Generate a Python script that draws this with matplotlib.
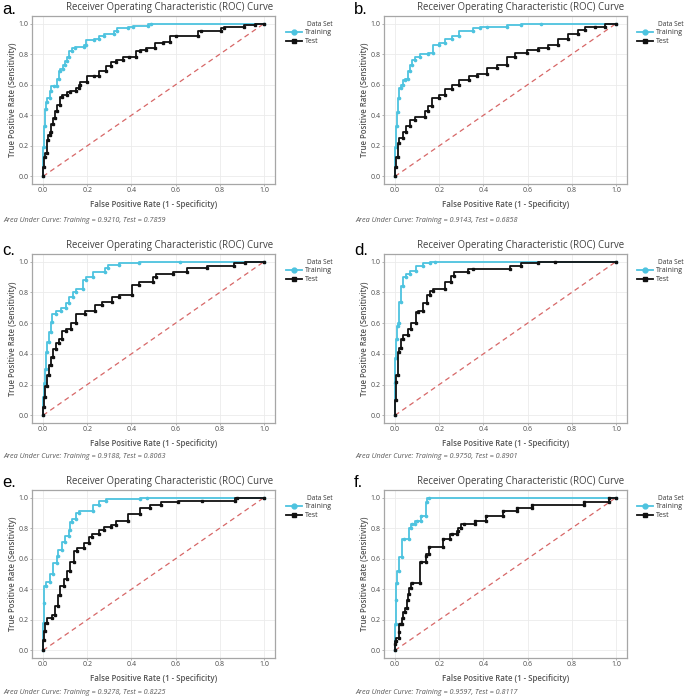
import matplotlib
matplotlib.use('Agg')
import matplotlib.pyplot as plt
from matplotlib.lines import Line2D

W, H = 685, 698
plt.rcParams['font.family'] = ['Open Sans', 'DejaVu Sans']

# ROC points, one pair of lists per panel and data set
a_train_fpr = [0, 0.003, 0.008, 0.015, 0.02, 0.03, 0.038, 0.05, 0.062, 0.07, 0.077, 0.092, 0.10, 0.107, 0.118,
               0.133, 0.146, 0.185, 0.195, 0.23, 0.253, 0.276, 0.32, 0.337, 0.383, 0.406, 0.475, 0.49, 1.0]
a_train_tpr = [0, 0.19, 0.33, 0.44, 0.49, 0.51, 0.56, 0.59, 0.59, 0.64, 0.69, 0.70, 0.73, 0.755, 0.78,
               0.82, 0.84, 0.845, 0.857, 0.89, 0.90, 0.92, 0.93, 0.95, 0.97, 0.98, 0.985, 1.0, 1.0]
a_test_fpr = [0, 0.005, 0.007, 0.018, 0.023, 0.03, 0.038, 0.046, 0.054, 0.061, 0.077, 0.084, 0.107, 0.123,
              0.149, 0.161, 0.169, 0.2, 0.23, 0.253, 0.284, 0.307, 0.33, 0.36, 0.39, 0.42, 0.437, 0.468,
              0.506, 0.544, 0.575, 0.60, 0.70, 0.713, 0.805, 0.82, 0.91, 0.96, 1.0]
a_test_tpr = [0, 0.06, 0.13, 0.15, 0.24, 0.27, 0.29, 0.34, 0.38, 0.43, 0.47, 0.52, 0.53, 0.55,
              0.56, 0.58, 0.60, 0.62, 0.66, 0.66, 0.69, 0.72, 0.75, 0.76, 0.78, 0.78, 0.82, 0.83,
              0.84, 0.87, 0.88, 0.92, 0.92, 0.95, 0.95, 0.97, 0.98, 0.99, 1.0]

b_train_fpr = [0, 0.005, 0.009, 0.015, 0.02, 0.025, 0.035, 0.043, 0.059, 0.066, 0.077, 0.09, 0.113,
               0.151, 0.174, 0.198, 0.228, 0.259, 0.29, 0.352, 0.383, 0.414, 0.506, 0.568, 0.66, 1.0]
b_train_tpr = [0, 0.19, 0.33, 0.42, 0.51, 0.58, 0.60, 0.63, 0.64, 0.69, 0.73, 0.76, 0.78,
               0.80, 0.81, 0.86, 0.87, 0.90, 0.92, 0.95, 0.97, 0.98, 0.98, 0.99, 1.0, 1.0]
b_test_fpr = [0, 0.005, 0.012, 0.02, 0.035, 0.051, 0.066, 0.09, 0.136, 0.148, 0.167, 0.198, 0.228,
              0.259, 0.29, 0.336, 0.37, 0.414, 0.46, 0.506, 0.545, 0.599, 0.645, 0.691, 0.738, 0.784,
              0.83, 0.861, 0.907, 0.95, 1.0]
b_test_tpr = [0, 0.06, 0.13, 0.22, 0.25, 0.29, 0.33, 0.37, 0.39, 0.43, 0.46, 0.51, 0.53,
              0.57, 0.60, 0.63, 0.66, 0.67, 0.71, 0.73, 0.78, 0.81, 0.83, 0.84, 0.86, 0.90,
              0.93, 0.96, 0.98, 0.98, 1.0]

c_train_fpr = [0, 0.003, 0.008, 0.012, 0.018, 0.026, 0.034, 0.042, 0.057, 0.08, 0.103, 0.119, 0.134,
               0.149, 0.18, 0.196, 0.226, 0.28, 0.296, 0.342, 0.434, 0.62, 1.0]
c_train_tpr = [0, 0.12, 0.21, 0.30, 0.41, 0.48, 0.54, 0.61, 0.66, 0.68, 0.70, 0.73, 0.77,
               0.80, 0.82, 0.88, 0.90, 0.93, 0.96, 0.98, 0.99, 1.0, 1.0]
c_test_fpr = [0, 0.003, 0.011, 0.018, 0.026, 0.037, 0.046, 0.057, 0.072, 0.088, 0.103, 0.126, 0.149,
              0.188, 0.234, 0.265, 0.311, 0.342, 0.404, 0.435, 0.496, 0.512, 0.589, 0.65, 0.743,
              0.866, 0.912, 1.0]
c_test_tpr = [0, 0.055, 0.12, 0.19, 0.26, 0.33, 0.38, 0.43, 0.47, 0.50, 0.55, 0.56, 0.60,
              0.66, 0.68, 0.72, 0.74, 0.77, 0.78, 0.85, 0.87, 0.90, 0.92, 0.93, 0.96,
              0.97, 0.99, 1.0]

d_train_fpr = [0, 0.002, 0.005, 0.008, 0.012, 0.02, 0.025, 0.035, 0.051, 0.066, 0.097, 0.128, 0.159,
               0.182, 1.0]
d_train_tpr = [0, 0.21, 0.37, 0.50, 0.58, 0.60, 0.74, 0.84, 0.90, 0.92, 0.94, 0.97, 0.99,
               1.0, 1.0]
d_test_fpr = [0, 0.005, 0.006, 0.015, 0.02, 0.028, 0.035, 0.059, 0.074, 0.097, 0.105, 0.128, 0.144,
              0.159, 0.174, 0.228, 0.252, 0.267, 0.329, 0.352, 0.522, 0.568, 0.645, 0.722, 1.0]
d_test_tpr = [0, 0.10, 0.22, 0.26, 0.41, 0.44, 0.50, 0.52, 0.56, 0.60, 0.67, 0.68, 0.73,
              0.78, 0.81, 0.82, 0.87, 0.91, 0.93, 0.955, 0.955, 0.97, 0.99, 1.0, 1.0]

e_train_fpr = [0, 0.003, 0.006, 0.012, 0.031, 0.046, 0.062, 0.069, 0.085, 0.10, 0.116, 0.123, 0.131,
               0.147, 0.162, 0.224, 0.255, 0.285, 0.44, 0.471, 1.0]
e_train_tpr = [0, 0.18, 0.31, 0.42, 0.45, 0.50, 0.57, 0.62, 0.66, 0.71, 0.75, 0.79, 0.84,
               0.86, 0.90, 0.91, 0.95, 0.975, 0.99, 1.0, 1.0]
e_test_fpr = [0, 0.003, 0.008, 0.02, 0.039, 0.054, 0.066, 0.077, 0.093, 0.108, 0.123, 0.139, 0.154,
              0.185, 0.208, 0.221, 0.255, 0.278, 0.309, 0.332, 0.386, 0.44, 0.486, 0.532, 0.61,
              0.718, 0.87, 0.88, 1.0]
e_test_tpr = [0, 0.07, 0.13, 0.18, 0.21, 0.23, 0.29, 0.36, 0.42, 0.47, 0.52, 0.58, 0.65,
              0.67, 0.70, 0.74, 0.76, 0.79, 0.81, 0.82, 0.85, 0.89, 0.93, 0.95, 0.97,
              0.98, 0.98, 1.0, 1.0]

f_train_fpr = [0, 0.003, 0.005, 0.011, 0.02, 0.031, 0.039, 0.062, 0.07, 0.078, 0.09, 0.101, 0.116,
               0.116, 0.14, 0.146, 0.152, 1.0]
f_train_tpr = [0, 0.17, 0.33, 0.44, 0.52, 0.61, 0.73, 0.73, 0.80, 0.83, 0.83, 0.85, 0.85,
               0.88, 0.88, 0.97, 1.0, 1.0]
f_test_fpr = [0, 0, 0.005, 0.016, 0.018, 0.023, 0.033, 0.036, 0.047, 0.052, 0.057, 0.065, 0.07, 0.078,
              0.113, 0.116, 0.14, 0.14, 0.155, 0.155, 0.215, 0.217, 0.25, 0.256, 0.28, 0.284, 0.3,
              0.31, 0.36, 0.36, 0.41, 0.41, 0.49, 0.49, 0.55, 0.55, 0.62, 0.62, 0.855, 0.855, 0.97,
              0.97, 1.0]
f_test_tpr = [0, 0.04, 0.06, 0.08, 0.12, 0.17, 0.17, 0.21, 0.25, 0.28, 0.33, 0.37, 0.41, 0.44,
              0.44, 0.58, 0.58, 0.62, 0.63, 0.68, 0.68, 0.73, 0.73, 0.76, 0.76, 0.78, 0.80,
              0.83, 0.83, 0.85, 0.85, 0.88, 0.88, 0.91, 0.91, 0.93, 0.93, 0.95, 0.95, 0.97, 0.97,
              1.0, 1.0]

auc_train = ['0.9210', '0.9143', '0.9188', '0.9750', '0.9278', '0.9597']
auc_test = ['0.7859', '0.6858', '0.8063', '0.8901', '0.8225', '0.8117']
letters = ['a.', 'b.', 'c.', 'd.', 'e.', 'f.']
ticks = [0.0, 0.2, 0.4, 0.6, 0.8, 1.0]
tick_labels = ['0.0', '0.2', '0.4', '0.6', '0.8', '1.0']

curves = [
    (a_train_fpr, a_train_tpr, a_test_fpr, a_test_tpr),
    (b_train_fpr, b_train_tpr, b_test_fpr, b_test_tpr),
    (c_train_fpr, c_train_tpr, c_test_fpr, c_test_tpr),
    (d_train_fpr, d_train_tpr, d_test_fpr, d_test_tpr),
    (e_train_fpr, e_train_tpr, e_test_fpr, e_test_tpr),
    (f_train_fpr, f_train_tpr, f_test_fpr, f_test_tpr),
]

# layout in pixels
left_col = 32
right_col = 384
rows_top = [16, 254, 490]
rows_bot = [184, 423, 658]
title_x = [170, 521]
title_y = [7, 245, 481]
letter_x = [2, 354]
letter_base = [14, 255, 487]
caption_y = [220, 457, 693]

CYAN = '#4DC3DF'
BLACK = '#111111'


def fx(x):
    return x / W


def fy(y):
    return 1 - y / H


fig = plt.figure(figsize=(W / 100, H / 100), dpi=100)

for i, (trx, tr_y, tex, te_y) in enumerate(curves):
    row, col = divmod(i, 2)
    l = left_col if col == 0 else right_col
    r = l + 243
    t, b = rows_top[row], rows_bot[row]
    ax = fig.add_axes([fx(l), fy(b), (r - l) / W, (b - t) / H])
    ax.set_xlim(-0.05, 1.05)
    ax.set_ylim(-0.05, 1.05)

    ax.plot([0, 1], [0, 1], ls=(0, (4, 3)), color='#D76767', lw=0.9, zorder=2)
    ax.plot(trx, tr_y, color=CYAN, lw=1.3, marker='o', ms=1.6, drawstyle='steps-pre', zorder=3)
    ax.plot(tex, te_y, color=BLACK, lw=1.3, marker='s', ms=1.5, drawstyle='steps-pre', zorder=4)

    ax.set_xticks(ticks)
    ax.set_xticklabels(tick_labels)
    ax.set_yticks(ticks)
    ax.set_yticklabels(tick_labels)
    ax.grid(color='#EBEBEB', lw=0.6)
    ax.set_axisbelow(True)
    for sp in ax.spines.values():
        sp.set_color('#A6A6A6')
        sp.set_linewidth(0.9)
    ax.tick_params(length=1.5, width=0.6, color='#A6A6A6', labelsize=5, labelcolor='#4D4D4D', pad=1)

    ax.set_xlabel('False Positive Rate (1 - Specificity)', fontsize=5.7, color='#555555',
                  fontweight='semibold', labelpad=4)
    ax.set_ylabel('True Positive Rate (Sensitivity)', fontsize=5.7, color='#555555',
                  fontweight='semibold', labelpad=1)

    handles = [Line2D([], [], color=CYAN, lw=1.3, marker='o', ms=3.5),
               Line2D([], [], color=BLACK, lw=1.3, marker='s', ms=3.5)]
    lx = 286 if col == 0 else 637
    ly = t + 13
    ax.legend(handles, ['Training', 'Test'], loc='upper left', bbox_to_anchor=(fx(lx), fy(ly)),
              bbox_transform=fig.transFigure, frameon=False, fontsize=5, handlelength=2.3,
              borderpad=0, borderaxespad=0, labelspacing=0.3, handletextpad=0.5,
              labelcolor='#333333')
    fig.text(fx(lx + 21), fy(t + 8), 'Data Set', fontsize=4.7, color='#333333', va='center', ha='left')

    fig.text(fx(title_x[col]), fy(title_y[row] + 0.5), 'Receiver Operating Characteristic (ROC) Curve',
             fontsize=6.9, color='#404040', ha='center', va='center')
    fig.text(fx(letter_x[col]), fy(letter_base[row]), letters[i], fontsize=12,
             family='Liberation Sans', color='black', ha='left', va='baseline')
    fig.text(fx(letter_x[col] + 1), fy(caption_y[row]),
             'Area Under Curve: Training = ' + auc_train[i] + ', Test = ' + auc_test[i],
             fontsize=5.25, style='italic', color='#5A5A5A', ha='left', va='center')

fig.savefig('out.png', dpi=100)
